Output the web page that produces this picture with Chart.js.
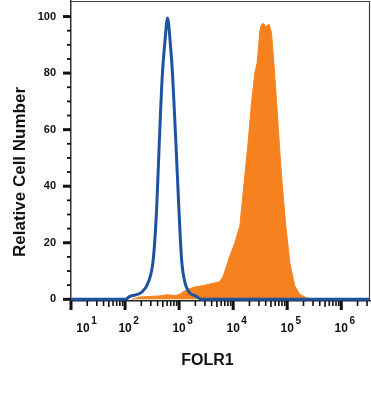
<!DOCTYPE html>
<html>
<head>
<meta charset="utf-8">
<style>
html,body{margin:0;padding:0;background:#fff;}
#c{display:block;}
</style>
<script src="https://cdn.jsdelivr.net/npm/chart.js@4.4.1/dist/chart.umd.min.js"></script>
</head>
<body>
<canvas id="c" width="371" height="395"></canvas>
<script>
// ---- data ----
const isotypeX = [10, 100, 123, 203, 269, 332, 384, 429, 488, 546, 612, 684, 759, 873, 991, 1112, 1279, 1538, 2104, 2600, 3400000];
const isotypeY = [0, 0, 1, 2.5, 6, 14, 32, 55, 79, 91, 99.5, 91, 79, 55, 32, 14, 6, 2.5, 1, 0, 0];

const folr1X = [132, 188, 288, 441, 595, 836, 1035, 1279, 1585, 2104, 2754, 3707, 5675, 6531, 8690, 10745, 13305, 15310, 18920, 21880, 25180, 27790, 31190, 33500, 36900, 40180, 46240, 51230, 59020, 67920, 78520, 94240, 111700, 138000, 171000, 227500, 324000];
const folr1Y = [0, 0.8, 1.0, 1.2, 1.6, 1.3, 1.8, 3, 3.8, 4.5, 4.8, 5.4, 6.2, 8.2, 15.3, 20, 26, 37.8, 55.5, 69.6, 80, 83.7, 95, 97.3, 97.5, 96.3, 97.3, 94.3, 79, 61.3, 43.6, 26, 13, 4.7, 1.8, 0.5, 0];

const yTickValues = [0, 20, 40, 60, 80, 100];
const xDecades = [1, 2, 3, 4, 5, 6];
const xTitle = "FOLR1";
const yTitle = "Relative Cell Number";

const ORANGE = "#F5821F";
const BLUE = "#1F52A0";
const INK = "#111111";
const FONT = "'Liberation Sans', Arial, sans-serif";

function pts(xs, ys){ return xs.map((x,i)=>({x:x, y:ys[i]})); }

const decorPlugin = {
  id: 'decor',
  afterDraw(chart){
    const ctx = chart.ctx;
    const xs = chart.scales.x, ys = chart.scales.y;
    const a = chart.chartArea;
    ctx.save();
    // frame top and right
    ctx.strokeStyle = "#444";
    ctx.lineWidth = 1.2;
    ctx.beginPath();
    ctx.moveTo(a.left, a.top + 0.5);
    ctx.lineTo(a.right - 0.5, a.top + 0.5);
    ctx.lineTo(a.right - 0.5, a.bottom);
    ctx.stroke();

    // y ticks (major every 20, minor every 5)
    ctx.strokeStyle = INK;
    for (let v = 0; v <= 100; v += 5) {
      const y = ys.getPixelForValue(v);
      const major = v % 20 === 0;
      ctx.lineWidth = major ? 3 : 1.8;
      ctx.beginPath();
      ctx.moveTo(a.left - (major ? 8 : 4), y);
      ctx.lineTo(a.left, y);
      ctx.stroke();
    }
    // x ticks (log decades + minors)
    for (const n of xDecades.concat([0])) {
      for (let k = 1; k <= 9; k++) {
        const v = k * Math.pow(10, n);
        if (v < xs.min || v > xs.max) continue;
        const x = xs.getPixelForValue(v);
        const major = k === 1;
        ctx.lineWidth = major ? 3 : 1.6;
        ctx.beginPath();
        ctx.moveTo(x, a.bottom);
        ctx.lineTo(x, a.bottom + (major ? 9 : (k === 5 ? 6 : 5)));
        ctx.stroke();
      }
    }
    // x tick labels 10^n
    ctx.fillStyle = INK;
    for (const n of xDecades) {
      let x = xs.getPixelForValue(Math.pow(10, n));
      if (n === 1) x += 12;
      ctx.font = "bold 12px " + FONT;
      ctx.textAlign = "center";
      ctx.textBaseline = "alphabetic";
      const w = ctx.measureText("10").width;
      ctx.fillText("10", x, 332);
      ctx.font = "bold 10px " + FONT;
      ctx.textAlign = "left";
      ctx.fillText(String(n), x + w / 2 + 1.5, 324);
    }
    // axis titles
    ctx.font = "bold 16px " + FONT;
    ctx.textAlign = "center";
    ctx.textBaseline = "middle";
    ctx.fillText(xTitle, 207.5, 361);
    ctx.save();
    ctx.translate(20, 172);
    ctx.rotate(-Math.PI / 2);
    ctx.font = "bold 17px " + FONT;
    ctx.fillText(yTitle, 0, 0);
    ctx.restore();
    ctx.restore();
  }
};

new Chart(document.getElementById('c'), {
  type: 'line',
  data: {
    datasets: [
      {
        label: 'Isotype',
        data: pts(isotypeX, isotypeY),
        borderColor: BLUE,
        borderWidth: 3,
        pointRadius: 0,
        fill: false,
        tension: 0.25,
        cubicInterpolationMode: 'monotone'
      },
      {
        label: 'FOLR1',
        data: pts(folr1X, folr1Y),
        borderColor: ORANGE,
        backgroundColor: ORANGE,
        borderWidth: 1,
        pointRadius: 0,
        fill: 'origin',
        tension: 0
      }
    ]
  },
  options: {
    responsive: false,
    devicePixelRatio: 1,
    animation: false,
    layout: { padding: { top: 1, right: 1, left: 0, bottom: 0 } },
    plugins: { legend: { display: false }, tooltip: { enabled: false } },
    scales: {
      x: {
        type: 'logarithmic',
        min: 10,
        max: 3400000,
        grid: { display: false, drawTicks: false },
        border: { display: true, color: '#222', width: 1.5 },
        ticks: { display: false },
        afterFit(s){ s.height = 94; s.paddingLeft = 0; s.paddingRight = 0; }
      },
      y: {
        type: 'linear',
        min: -0.6,
        max: 105.5,
        grid: { display: false, drawTicks: false },
        border: { display: true, color: '#333', width: 1.5 },
        afterBuildTicks(s){ s.ticks = yTickValues.map(v => ({ value: v })); },
        ticks: {
          padding: 15,
          color: INK,
          font: { family: FONT, size: 11, weight: 'bold' }
        },
        afterFit(s){ s.width = 71; s.paddingTop = 0; s.paddingBottom = 0; }
      }
    }
  },
  plugins: [decorPlugin]
});
</script>
</body>
</html>
